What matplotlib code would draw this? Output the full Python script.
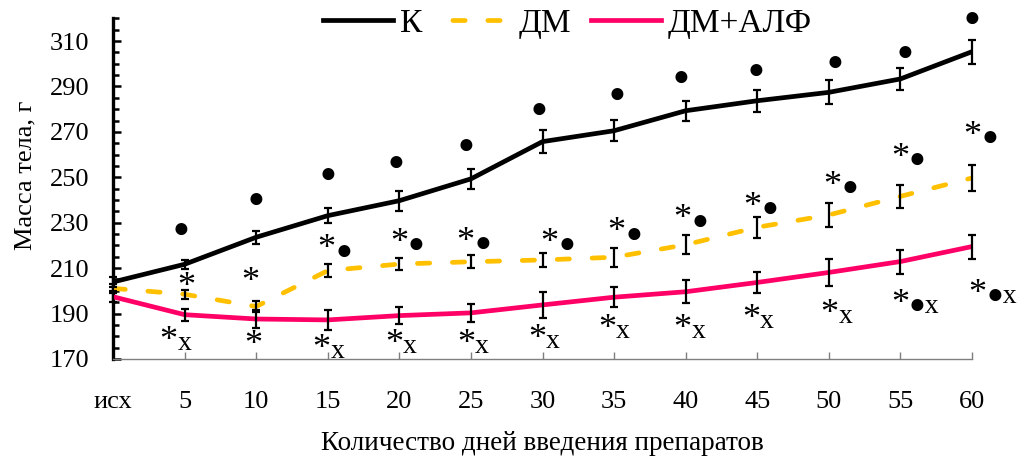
import numpy as np
import matplotlib
matplotlib.use('Agg')
import matplotlib.pyplot as plt
from matplotlib.lines import Line2D
from matplotlib.ticker import MultipleLocator

plt.rcParams['font.family'] = ['Liberation Serif', 'DejaVu Serif']
plt.rcParams['font.size'] = 19

# data
days = ['исх', '5', '10', '15', '20', '25', '30', '35', '40', '45', '50', '55', '60']

k_mean = [203.9, 211.7, 223.6, 233.1, 239.7, 249.3, 265.7, 270.5, 279.3, 283.7, 287.4, 293.3, 305.3]
k_err = [2.2, 2.0, 2.9, 3.3, 4.4, 4.5, 5.0, 4.6, 4.5, 4.8, 5.3, 5.0, 5.3]

dm_mean = [201.1, 198.5, 193.1, 208.9, 211.8, 212.8, 213.6, 214.8, 220.3, 228.0, 233.4, 241.6, 249.7]
dm_err = [2.0, 2.0, 2.6, 2.7, 2.7, 2.9, 3.1, 4.2, 4.2, 4.6, 5.1, 5.1, 5.9]

alf_mean = [197.4, 189.5, 187.6, 187.2, 189.1, 190.3, 193.8, 197.2, 199.6, 203.7, 208.1, 212.9, 219.5]
alf_err = [2.5, 2.6, 4.1, 4.3, 3.7, 4.0, 5.7, 4.4, 5.1, 4.8, 6.0, 5.3, 5.3]

# significance marks: "*" part and the rest of the label
k_marks = ['', '●', '●', '●', '●', '●', '●', '●', '●', '●', '●', '●', '●']
k_marks_y = [0, 226.4, 240.0, 251.0, 255.9, 263.4, 279.6, 286.2, 293.7, 296.4, 299.9, 304.7, 319.3]
k_marks_dx = [0, -0.05, 0, 0, -0.05, -0.07, -0.05, 0.04, -0.07, -0.02, 0.09, 0.06, 0]

dm_marks = ['', '*', '*', '*●', '*●', '*●', '*●', '*●', '*●', '*●', '*●', '*●', '*●']
dm_marks_y = [0, 200.7, 202.9, 217.1, 219.8, 220.6, 219.8, 224.6, 230.3, 236.0, 244.9, 257.2, 266.9]
dm_marks_dx = [0, 0.02, -0.08, 0.11, 0.12, 0.05, 0.22, 0.16, 0.08, 0.06, 0.18, 0.12, 0.13]

alf_marks = ['', '*x', '*', '*x', '*x', '*x', '*x', '*x', '*x', '*x', '*x', '*●x', '*●x']
alf_marks_y = [0, 176.6, 175.2, 173.5, 175.7, 175.7, 177.5, 182.3, 182.3, 186.7, 188.5, 192.9, 197.7]
alf_marks_dx = [0, -0.10, -0.04, 0.04, 0.05, 0.06, 0.05, 0.03, 0.08, 0.04, 0.14, 0.12, 0.2]

x = np.arange(len(days))

fig = plt.figure(figsize=(10.21, 4.61), dpi=100)
ax = fig.add_axes([0.1107, 0.2213, 0.8413, 0.739])

l1, = ax.plot(x, k_mean, color='black', lw=3.4, zorder=3, label='К')
ax.plot(x, dm_mean, color='#FFC000', lw=3.4, zorder=3,
        dashes=(2.6, 4.8), dash_capstyle='round')
l3, = ax.plot(x, alf_mean, color='#FF0066', lw=3.4, zorder=3, label='ДМ+АЛФ')
# legend handle for the dashed series, dash phase shifted to sit inside the key
l2 = Line2D([], [], color='#FFC000', lw=3.4, linestyle=(5.2, (2.6, 4.8)),
            dash_capstyle='round', label='ДМ')

for m, e in [(k_mean, k_err), (dm_mean, dm_err), (alf_mean, alf_err)]:
    ax.errorbar(x, m, yerr=e, fmt='none', ecolor='black', elinewidth=1.6,
                capsize=3, capthick=1.6, zorder=4, clip_on=False)

FS = 20       # size of dots and "x"
FS_AST = 26   # asterisks are drawn larger
BASE = -0.233 * FS  # from line-box centre to baseline, points


def put_mark(i, yv, s):
    rest = s[1:] if s.startswith('*') else s
    if s == '*':
        ax.annotate('*', (i, yv), xytext=(0, BASE), textcoords='offset points',
                    ha='center', va='baseline', fontsize=FS_AST, zorder=5,
                    annotation_clip=False)
        return
    if s.startswith('*'):
        ax.annotate('*', (i, yv), xytext=(0, BASE), textcoords='offset points',
                    ha='right', va='baseline', fontsize=FS_AST, zorder=5,
                    annotation_clip=False)
        ax.annotate(rest, (i, yv), ha='left', va='center', fontsize=FS,
                    zorder=5, annotation_clip=False)
    else:
        ax.annotate(rest, (i, yv), ha='center', va='center', fontsize=FS,
                    zorder=5, annotation_clip=False)


for labels, ys, dxs in [(k_marks, k_marks_y, k_marks_dx),
                        (dm_marks, dm_marks_y, dm_marks_dx),
                        (alf_marks, alf_marks_y, alf_marks_dx)]:
    for i, (s, yv, dx) in enumerate(zip(labels, ys, dxs)):
        if s:
            put_mark(i + dx, yv, s)

ax.set_xlim(0, 12)
ax.set_ylim(170, 320)
ax.set_xticks(x)
ax.set_xticklabels(days)
ax.set_yticks(np.arange(170, 320, 20))
ax.yaxis.set_minor_locator(MultipleLocator(5))

ax.spines['top'].set_visible(False)
ax.spines['right'].set_visible(False)
ax.spines['left'].set_linewidth(2.4)
ax.spines['bottom'].set_color('#7f7f7f')
ax.spines['bottom'].set_linewidth(1)

ax.tick_params(axis='y', which='major', direction='in', length=6, width=1.8, pad=17)
ax.tick_params(axis='y', which='minor', direction='in', length=4.5, width=1.8)
ax.tick_params(axis='x', direction='in', length=5, width=1, color='#7f7f7f', pad=23)

ax.set_ylabel('Масса тела, г')
ax.yaxis.set_label_coords(-0.089, 0.54)
ax.set_xlabel('Количество дней введения препаратов', labelpad=13, fontsize=19.5)

fig.legend(handles=[l1, l2, l3], loc='center', bbox_to_anchor=(0.556, 0.949),
           ncol=3, frameon=False, handlelength=2.1, handletextpad=0.2,
           columnspacing=0.6, fontsize=24, borderaxespad=0)

fig.savefig('out.png', dpi=100)
